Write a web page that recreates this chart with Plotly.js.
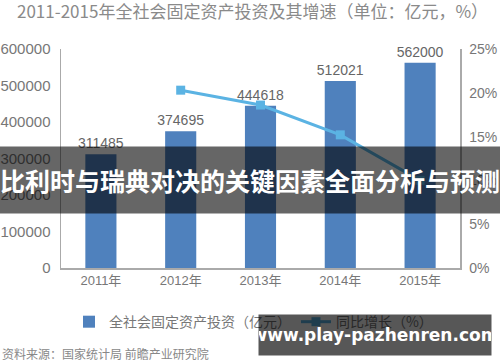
<!DOCTYPE html>
<html>
<head>
<meta charset="utf-8">
<script src="https://cdn.plot.ly/plotly-3.0.1.min.js"></script>
<style>html,body{margin:0;padding:0;background:#fff}#chart{width:500px;height:362px}</style>
</head>
<body>
<div id="chart"></div>
<script>
const years = ["2011年", "2012年", "2013年", "2014年", "2015年"];
const investment = [311485, 374695, 444618, 512021, 562000];
const growth = [null, 20.3, 18.6, 15.2, 10.0];
const leftTicks = [0, 100000, 200000, 300000, 400000, 500000, 600000];
const rightTicks = [0, 5, 10, 15, 20, 25];

const titleText = "2011-2015年全社会固定资产投资及其增速（单位：亿元，%）";
const barName = "全社会固定资产投资（亿元）";
const lineName = "同比增长（%）";
const sourceText = "资料来源：国家统计局 前瞻产业研究院";
const bannerText = "比利时与瑞典对决的关键因素全面分析与预测";
const watermarkText = "www.play-pazhenren.com";

const FONT = '"Liberation Sans", Arial, "Noto Sans CJK SC", sans-serif';
const CJK = '"Noto Sans CJK SC", "Liberation Sans", sans-serif';

const traces = [
  {
    type: "bar",
    x: years,
    y: investment,
    name: barName,
    marker: {color: "#4f81bd"},
    text: investment.map(String),
    textposition: "outside",
    constraintext: "none",
    textfont: {size: 14, color: "#666", family: FONT},
    cliponaxis: false,
    hoverinfo: "none"
  },
  {
    type: "scatter",
    mode: "lines+markers",
    x: years,
    y: growth,
    yaxis: "y2",
    name: lineName,
    line: {color: "#5bb3e3", width: 3},
    marker: {color: "#5bb3e3", symbol: "square", size: 9},
    cliponaxis: false,
    hoverinfo: "none"
  }
];

const layout = {
  width: 500,
  height: 362,
  margin: {l: 61, r: 40, t: 49, b: 94},
  paper_bgcolor: "#fff",
  plot_bgcolor: "#fff",
  showlegend: true,
  bargap: 0.61,
  title: {
    text: titleText,
    font: {family: CJK, size: 17, color: "#8a8a8a"},
    x: 0.034, xanchor: "left", xref: "container",
    y: 0.966, yanchor: "middle", yref: "container"
  },
  xaxis: {
    type: "category",
    showline: true, linecolor: "#aaa", linewidth: 1.5,
    showgrid: false, zeroline: false, ticks: "",
    tickfont: {family: FONT, size: 13, color: "#777"}
  },
  yaxis: {
    range: [0, 600000],
    tickvals: leftTicks,
    ticktext: leftTicks.map(String),
    showline: true, linecolor: "#aaa", linewidth: 1.5,
    showgrid: false, zeroline: false, ticks: "",
    ticklabelstandoff: 6,
    tickfont: {family: FONT, size: 15, color: "#777"}
  },
  yaxis2: {
    overlaying: "y",
    side: "right",
    range: [0, 25],
    tickvals: rightTicks,
    ticktext: rightTicks.map(v => v + "%"),
    showline: true, linecolor: "#aaa", linewidth: 1.5,
    showgrid: false, zeroline: false, ticks: "",
    ticklabelstandoff: 5,
    tickfont: {family: FONT, size: 14, color: "#777"}
  },
  legend: {
    orientation: "h",
    x: 0.02, xanchor: "left",
    y: -0.247, yanchor: "middle",
    font: {family: CJK, size: 14, color: "#777"},
    itemwidth: 30,
    traceorder: "normal"
  },
  annotations: [
    {
      text: sourceText,
      xref: "paper", yref: "paper",
      x: -0.1529, xanchor: "left",
      y: (268 - 353) / 219, yanchor: "middle",
      showarrow: false,
      font: {family: CJK, size: 12, color: "#888"}
    },
    {
      text: "<b>" + bannerText + "</b>",
      xref: "paper", yref: "paper",
      x: (250 - 61) / 399, xanchor: "center",
      y: (268 - 180) / 219, yanchor: "middle",
      width: 500, height: 66,
      borderpad: 0,
      bgcolor: "rgba(0,0,0,0.6)",
      showarrow: false,
      font: {family: CJK, size: 25, color: "#fff"}
    },
    {
      text: "<b>" + watermarkText + "</b>",
      xref: "paper", yref: "paper",
      x: (375 - 61) / 399, xanchor: "center",
      y: (268 - 335) / 219, yanchor: "middle",
      width: 232, height: 40,
      borderpad: 0,
      bgcolor: "rgba(0,0,0,0.66)",
      showarrow: false,
      font: {family: '"DejaVu Sans", sans-serif', size: 17, color: "#fff"}
    }
  ]
};

Plotly.newPlot("chart", traces, layout, {displayModeBar: false, staticPlot: true});
</script>
</body>
</html>
